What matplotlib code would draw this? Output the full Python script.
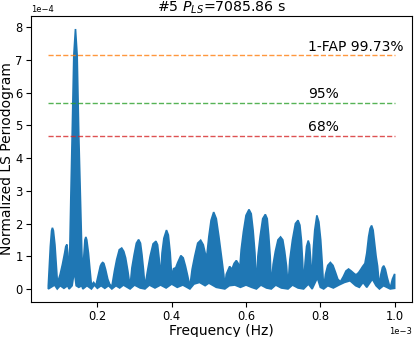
import numpy as np
import matplotlib
matplotlib.use("Agg")
import matplotlib.pyplot as plt

# upper envelope of the periodogram (freq in 1e-3 Hz, power in 1e-4)
up_f = [0.068, 0.0735, 0.0768, 0.079, 0.0817, 0.0858, 0.0926,
        0.100, 0.106, 0.112, 0.115, 0.118, 0.1205, 0.124,
        0.126, 0.1285, 0.1322, 0.1366, 0.1411, 0.1456, 0.150, 0.1545, 0.158, 0.161,
        0.163, 0.1665, 0.169, 0.1715, 0.176, 0.180, 0.184, 0.190, 0.196,
        0.202, 0.208, 0.2115, 0.2145, 0.2175, 0.222, 0.228, 0.233, 0.239,
        0.246, 0.252, 0.259, 0.2655, 0.271, 0.276, 0.282, 0.288,
        0.293, 0.299, 0.305, 0.311, 0.316, 0.320, 0.324, 0.328,
        0.335, 0.342, 0.350, 0.3576, 0.362, 0.366, 0.370,
        0.374, 0.379, 0.386, 0.391, 0.396, 0.400, 0.405, 0.411,
        0.416, 0.4247, 0.431, 0.437, 0.443, 0.449,
        0.455, 0.462, 0.470, 0.478, 0.485, 0.490, 0.494,
        0.500, 0.506, 0.513, 0.520, 0.527, 0.535, 0.540, 0.543,
        0.547, 0.556, 0.562, 0.568, 0.574, 0.579, 0.583,
        0.587, 0.593, 0.600, 0.608, 0.614, 0.619, 0.624, 0.628,
        0.632, 0.638, 0.645, 0.652, 0.657, 0.661, 0.665, 0.668,
        0.673, 0.679, 0.686, 0.693, 0.699, 0.704, 0.709, 0.713,
        0.718, 0.725, 0.733, 0.740, 0.745, 0.749, 0.752, 0.755,
        0.759, 0.763, 0.7675, 0.771, 0.774, 0.778,
        0.781, 0.785, 0.7907, 0.796, 0.801, 0.805, 0.809,
        0.814, 0.820, 0.827, 0.834, 0.841, 0.847, 0.854,
        0.862, 0.869, 0.876, 0.883, 0.890, 0.896, 0.903, 0.909, 0.914, 0.920, 0.925, 0.930,
        0.934, 0.938, 0.942, 0.946, 0.950, 0.954, 0.959,
        0.963, 0.967, 0.9706, 0.975, 0.980, 0.988, 0.994, 1.000]
up_p = [0.10, 1.3, 1.78, 1.87, 1.78, 1.35, 0.18,
        0.45, 0.75, 1.1, 1.3, 1.36, 1.1, 0.2,
        1.3, 2.74, 4.69, 7.14, 7.95, 7.14, 4.69, 2.74, 1.2, 0.15,
        0.9, 1.5, 1.59, 1.5, 1.1, 0.6, 0.12, 0.2, 0.1,
        0.4, 0.7, 0.78, 0.81, 0.78, 0.6, 0.3, 0.15, 0.07,
        0.55, 0.9, 1.2, 1.25, 1.15, 0.95, 0.55, 0.07,
        0.65, 1.05, 1.4, 1.51, 1.4, 1.05, 0.6, 0.07,
        0.55, 1.0, 1.38, 1.46, 1.35, 0.95, 0.34,
        1.1, 1.55, 1.80, 1.65, 1.1, 0.38, 0.62, 0.65,
        0.8, 1.02, 0.95, 0.7, 0.4, 0.07,
        0.6, 1.0, 1.4, 1.49, 1.35, 1.1, 0.95,
        1.6, 2.1, 2.35, 2.15, 1.6, 0.9, 0.45, 0.09,
        0.45, 0.69, 0.6, 0.78, 0.87, 0.78, 0.59,
        1.2, 1.75, 2.25, 2.43, 2.3, 1.8, 1.1, 0.09,
        1.0, 1.6, 2.15, 2.28, 2.15, 1.65, 1.0, 0.07,
        0.75, 1.15, 1.5, 1.59, 1.5, 1.15, 0.7, 0.07,
        0.9, 1.5, 2.0, 2.10, 1.95, 1.5, 0.9, 0.12,
        0.8, 1.3, 1.48, 1.35, 0.9, 0.22,
        1.2, 1.8, 2.25, 2.05, 1.5, 0.8, 0.02,
        0.45, 0.72, 0.81, 0.72, 0.5, 0.3, 0.22,
        0.38, 0.55, 0.61, 0.55, 0.48, 0.43, 0.5, 0.6, 0.69, 0.78, 1.1, 1.6,
        1.85, 1.94, 1.8, 1.4, 1.0, 0.7, 0.07,
        0.45, 0.65, 0.71, 0.6, 0.35, 0.02, 0.3, 0.46]

# lower envelope
lo_f = [0.068, 0.075, 0.085, 0.092, 0.100, 0.110, 0.120, 0.124, 0.132, 0.138,
        0.143, 0.150, 0.158, 0.161, 0.172, 0.184, 0.192, 0.200, 0.210, 0.220,
        0.230, 0.239, 0.250, 0.260, 0.270, 0.288, 0.300, 0.315, 0.328, 0.340,
        0.355, 0.370, 0.385, 0.400, 0.415, 0.430, 0.449, 0.460, 0.475, 0.490,
        0.500, 0.520, 0.543, 0.555, 0.570, 0.585, 0.600, 0.615, 0.628, 0.640,
        0.655, 0.668, 0.680, 0.695, 0.713, 0.725, 0.740, 0.755, 0.768, 0.778,
        0.792, 0.800, 0.809, 0.820, 0.835, 0.850, 0.865, 0.880, 0.895, 0.905,
        0.915, 0.925, 0.940, 0.950, 0.959, 0.970, 0.988, 1.000]
lo_p = [0.0, 0.05, 0.12, 0.0, 0.1, 0.02, 0.1, 0.0, 0.1, 0.55,
        0.1, 0.05, 0.1, 0.0, 0.1, 0.0, 0.12, 0.02, 0.1, 0.02,
        0.1, 0.0, 0.1, 0.03, 0.12, 0.0, 0.12, 0.03, 0.0, 0.12,
        0.03, 0.12, 0.03, 0.15, 0.05, 0.12, 0.0, 0.15, 0.2, 0.1,
        0.18, 0.05, 0.0, 0.1, 0.12, 0.05, 0.12, 0.05, 0.0, 0.12,
        0.03, 0.0, 0.12, 0.03, 0.0, 0.12, 0.03, 0.0, 0.15, 0.0,
        0.34, 0.05, 0.0, 0.1, 0.03, 0.12, 0.2, 0.25, 0.1, 0.05,
        0.2, 0.05, 0.3, 0.1, 0.0, 0.1, 0.0, 0.02]

fap_levels = [7.14, 5.69, 4.67]
fap_labels = ['1-FAP 99.73%', '95%', '68%']
fap_colors = ['tab:orange', 'tab:green', 'tab:red']
period = 7085.86

fig = plt.figure(figsize=(4.15, 3.37), dpi=100)
ax = fig.add_axes([0.0747, 0.104, 0.918, 0.8485])

xs = np.concatenate([up_f, lo_f[::-1]]) * 1e-3
ys = np.concatenate([up_p, lo_p[::-1]]) * 1e-4
ax.fill(xs, ys, color='#1f77b4', lw=1.2)

fmin, fmax = up_f[0] * 1e-3, up_f[-1] * 1e-3
for lvl, lab, c in zip(fap_levels, fap_labels, fap_colors):
    ax.hlines(lvl * 1e-4, fmin, fmax, colors=c, linestyles='--', lw=1, alpha=0.8)
    ax.text(0.768e-3, lvl * 1e-4 + 0.06e-4, lab, fontsize=10, va='bottom')

ax.ticklabel_format(axis='both', style='sci', scilimits=(0, 0))
ax.tick_params(labelsize=8.3, pad=2.5)
ax.xaxis.get_offset_text().set_fontsize(6)
ax.yaxis.get_offset_text().set_fontsize(6)
ax.set_xlabel('Frequency (Hz)', fontsize=10, labelpad=0.5)
ax.set_ylabel('Normalized LS Periodogram', fontsize=10, labelpad=1)
ax.set_title(r'#5 $P_{LS}$=%.2f s' % period, fontsize=10.2, pad=3.5)

fig.savefig('out.png', dpi=100)
